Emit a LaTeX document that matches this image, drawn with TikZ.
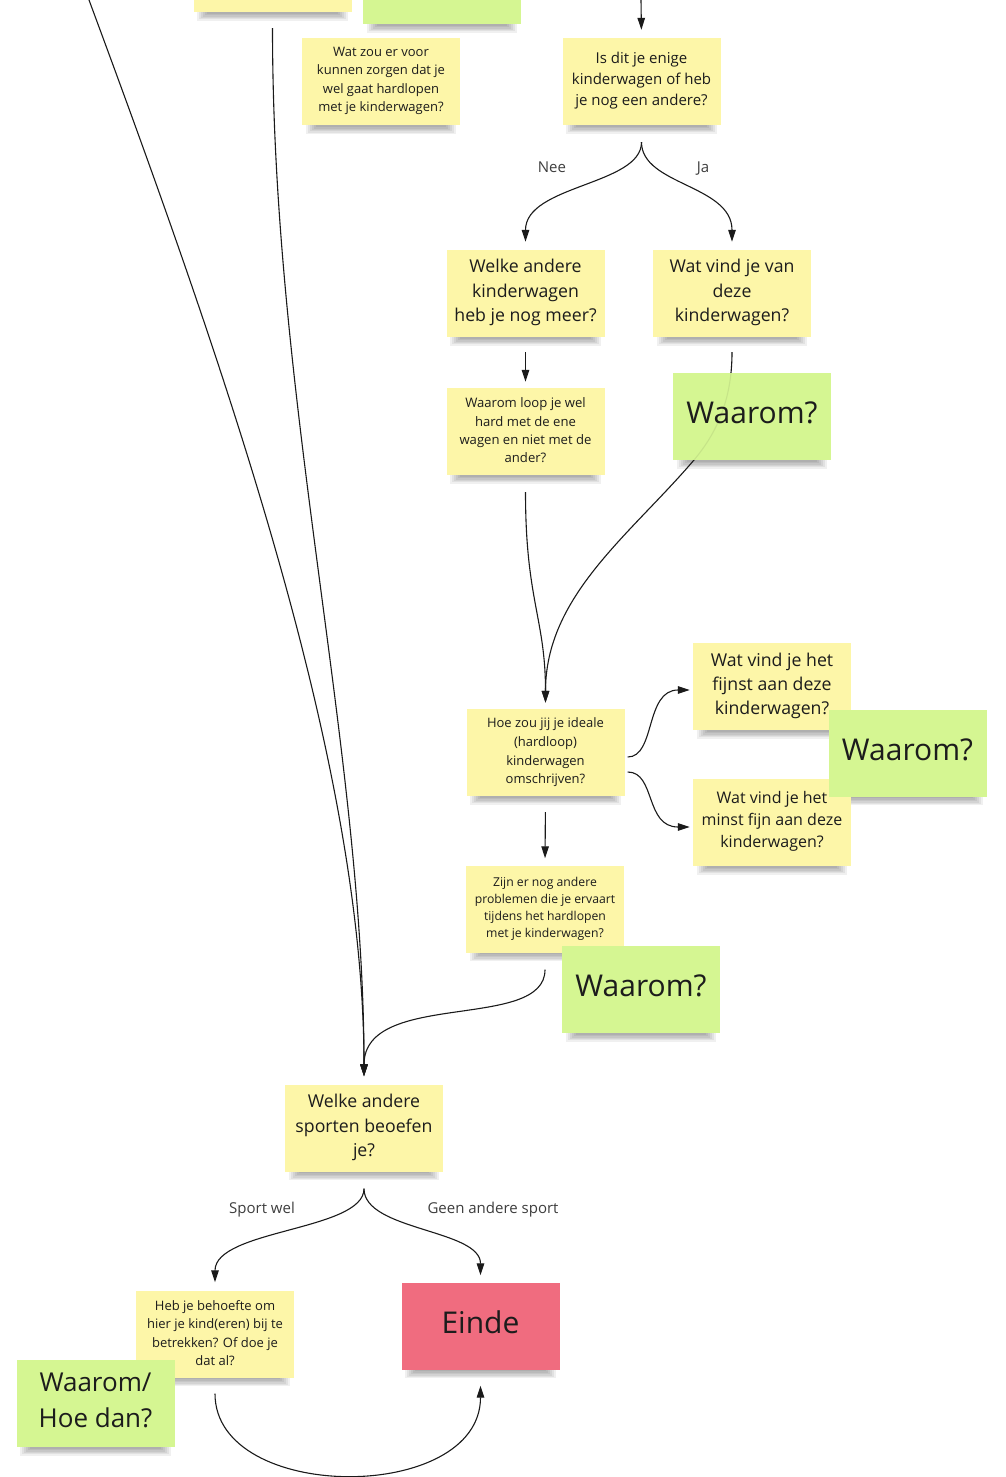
\documentclass[tikz,border=0pt]{standalone}
\usepackage{fontspec}
\setmainfont{Open Sans}
\usetikzlibrary{arrows.meta,calc}
\pgfdeclarelayer{bg}
\pgfdeclarelayer{lines}
\pgfdeclarelayer{over}
\pgfsetlayers{bg,lines,main,over}
\definecolor{noteY}{HTML}{FDF6A8}
\definecolor{noteG}{HTML}{D5F692}
\definecolor{noteR}{HTML}{F06C7F}
\definecolor{ink}{HTML}{1C1C1C}
\definecolor{wirecol}{HTML}{1A1A1A}
\newcommand\fsz[2]{\fontsize{#1}{#2}\selectfont}
\tikzset{
  notebox/.style={rectangle, minimum width=158pt, minimum height=87pt, inner sep=0pt, draw=none},
  yellownote/.style={notebox, fill=noteY},
  greennote/.style={notebox, fill=noteG},
  rednote/.style={notebox, fill=noteR},
  notetext/.style={align=center, text=ink, inner sep=0pt},
  wire/.style={draw=wirecol, line width=1.1pt},
  arrowwire/.style={wire, -{Triangle[length=12pt,width=7.5pt]}},
  lbl/.style={text=ink!85, font=\fsz{15}{18}, inner sep=0pt, anchor=base},
}
\newcommand\stickynote[6][1pt]{%
  \node[#4] (#2) at #3 {};
  \node[notetext, font=#5] (#2-text) at ([yshift=#1]#2.center) {#6};
  \begin{pgfonlayer}{bg}
    \foreach \k in {1,...,6} {
      \fill[black, opacity=0.058] ($(#2.south west)+(2+2*\k,-3)$) rectangle ($(#2.south east)+(-2-2*\k,10-1.4*\k)$);
    }
  \end{pgfonlayer}
}
\begin{document}
\begin{tikzpicture}[x=1pt,y=-1pt]
\begin{pgfonlayer}{bg}
  \fill[white] (0,0) rectangle (1005,1477);
\end{pgfonlayer}
\path[use as bounding box] (0,0) rectangle (1005,1477);

% notes
\stickynote{topY}{(272.5,-31.5)}{yellownote}{}{}
\stickynote{topG}{(442,-19.5)}{greennote}{}{}
\stickynote{wz}{(381,82)}{yellownote}{\fsz{13}{18.3}}{Wat zou er voor\\kunnen zorgen dat je\\wel gaat hardlopen\\met je kinderwagen?}
\stickynote{isdit}{(641.5,81.5)}{yellownote}{\fsz{15}{21}}{Is dit je enige\\kinderwagen of heb\\je nog een andere?}
\stickynote{welke}{(525.5,293.5)}{yellownote}{\fsz{17.7}{24.5}}{Welke andere\\kinderwagen\\heb je nog meer?}
\stickynote{watvind}{(732,293.5)}{yellownote}{\fsz{17.7}{24.5}}{Wat vind je van\\deze\\kinderwagen?}
\stickynote{waaromloop}{(525.5,431.5)}{yellownote}{\fsz{13.1}{18.3}}{Waarom loop je wel\\hard met de ene\\wagen en niet met de\\ander?}
\stickynote[3.5pt]{gA}{(752,416.5)}{greennote}{\fsz{30}{36}}{Waarom?}
\stickynote[0pt]{hoe}{(545.5,752.5)}{yellownote}{\fsz{13}{18.6}}{Hoe zou jij je ideale\\(hardloop)\\kinderwagen\\omschrijven?}
\stickynote{fijnst}{(772,686.5)}{yellownote}{\fsz{17.7}{24}}{Wat vind je het\\fijnst aan deze\\kinderwagen?}
\stickynote{minst}{(772,822.5)}{yellownote}{\fsz{16}{22}}{Wat vind je het\\minst fijn aan deze\\kinderwagen?}
\stickynote[3.5pt]{gB}{(907.5,753)}{greennote}{\fsz{30}{36}}{Waarom?}
\stickynote[0pt]{zijn}{(545,909)}{yellownote}{\fsz{12.2}{16.8}}{Zijn er nog andere\\problemen die je ervaart\\tijdens het hardlopen\\met je kinderwagen?}
\stickynote[3.5pt]{gC}{(641,989.5)}{greennote}{\fsz{30}{36}}{Waarom?}
\stickynote[0.5pt]{sport}{(364,1128)}{yellownote}{\fsz{17.7}{24.5}}{Welke andere\\sporten beoefen\\je?}
\stickynote{heb}{(215,1334)}{yellownote}{\fsz{13}{18.3}}{Heb je behoefte om\\hier je kind(eren) bij te\\betrekken? Of doe je\\dat al?}
\stickynote[3.5pt]{gD}{(95.5,1403.5)}{greennote}{\fsz{26}{36}}{Waarom/\\Hoe dan?}
\stickynote[3.5pt]{einde}{(480.5,1326)}{rednote}{\fsz{30}{36}}{Einde}

% labels
\node[lbl] (nee) at (552,172.5) {Nee};
\node[lbl] (ja) at (703,172.5) {Ja};
\node[lbl] (sportwel) at (262,1213.5) {Sport wel};
\node[lbl] (geen) at (493,1213.5) {Geen andere sport};

% connectors
\begin{pgfonlayer}{lines}
  \coordinate (topIn) at (641,0);
  \coordinate (leftIn) at (89,0);
  \coordinate (bendA) at (694,460);
  \draw[arrowwire, shorten >=8pt] (topIn) -- (isdit.north);
  \draw[arrowwire, shorten <=17pt, shorten >=8pt] (isdit.south) .. controls +(0,60) and +(0,-65) .. (welke.north);
  \draw[arrowwire, shorten <=17pt, shorten >=8pt] (isdit.south) .. controls +(0,60) and +(0,-65) .. (watvind.north);
  \draw[arrowwire, shorten <=15pt, shorten >=6pt] (welke.south) -- (waaromloop.north);
  \draw[arrowwire, shorten <=15pt, shorten >=6pt] (watvind.south) .. controls +(0,65) and +(21,-25) .. (bendA) .. controls +(-64,75) and +(0,-113) .. (hoe.north);
  \draw[arrowwire, shorten <=17pt, shorten >=6pt] (waaromloop.south) .. controls +(0,125) and +(0,-90) .. (hoe.north);
  \draw[arrowwire] ([xshift=3pt,yshift=-4.5pt]hoe.east) .. controls +(28,0) and +(-45,0) .. ([xshift=-3pt,yshift=-3.5pt]fijnst.west);
  \draw[arrowwire] ([xshift=3pt,yshift=-19.5pt]hoe.east) .. controls +(28,0) and +(-45,0) .. ([xshift=-3pt,yshift=-4.5pt]minst.west);
  \draw[arrowwire, shorten <=16pt, shorten >=7pt] (hoe.south) -- (zijn.north);
  \draw[arrowwire, shorten <=17pt, shorten >=8pt] (zijn.south) .. controls +(0,79) and +(0,-95) .. (sport.north);
  \draw[arrowwire, shorten >=8pt] (leftIn) .. controls +(141,380) and +(0,-317) .. (sport.north);
  \draw[arrowwire, shorten <=16pt, shorten >=8pt] (topY.south) .. controls +(0,390) and +(0,-330) .. (sport.north);
  \draw[arrowwire, shorten <=17pt, shorten >=8pt] (sport.south) .. controls +(0,59) and +(0,-61) .. (heb.north);
  \draw[arrowwire, shorten <=17pt, shorten >=7pt] (sport.south) .. controls +(0,59) and +(0,-53) .. (einde.north);
  \draw[arrowwire, shorten <=16pt, shorten >=16pt] (heb.south) .. controls +(0,126) and +(0,134) .. (einde.south);
\end{pgfonlayer}
\begin{pgfonlayer}{over}
  \draw[wire, opacity=0.08, shorten <=15pt] (watvind.south) .. controls +(0,65) and +(21,-25) .. (bendA);
\end{pgfonlayer}
\end{tikzpicture}
\end{document}
